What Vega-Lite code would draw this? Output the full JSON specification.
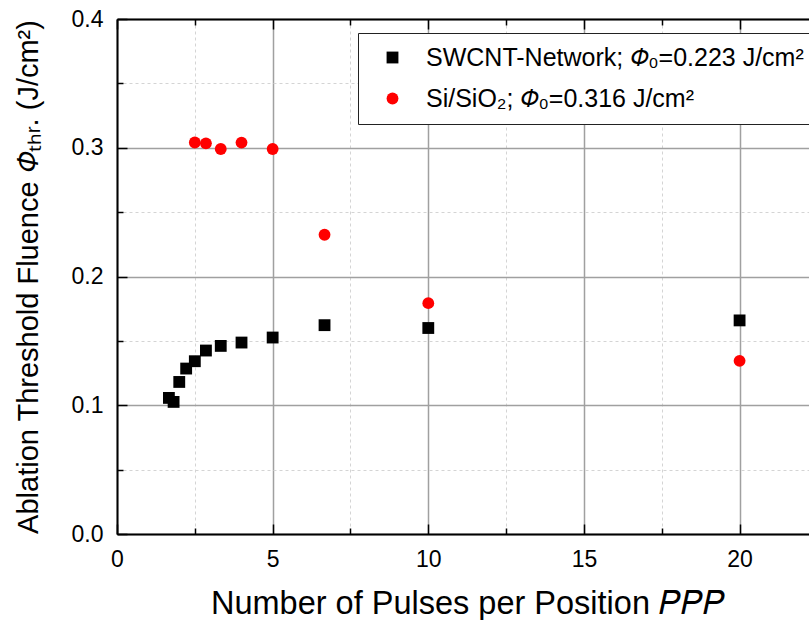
{
  "$schema": "https://vega.github.io/schema/vega-lite/v6.json",
  "autosize": {"type": "none"},
  "padding": {"left": 117, "top": 19, "right": 0, "bottom": 86},
  "width": 692,
  "height": 515,
  "background": "white",
  "config": {"font": "Liberation Sans", "view": {"stroke": null}},
  "data": {"values": [
    {"sample": "SWCNT-Network; 𝛷₀=0.223 J/cm²", "ppp": 1.667, "phi": 0.1057},
    {"sample": "SWCNT-Network; 𝛷₀=0.223 J/cm²", "ppp": 1.818, "phi": 0.1026},
    {"sample": "SWCNT-Network; 𝛷₀=0.223 J/cm²", "ppp": 2.0, "phi": 0.1181},
    {"sample": "SWCNT-Network; 𝛷₀=0.223 J/cm²", "ppp": 2.222, "phi": 0.1285},
    {"sample": "SWCNT-Network; 𝛷₀=0.223 J/cm²", "ppp": 2.5, "phi": 0.1342},
    {"sample": "SWCNT-Network; 𝛷₀=0.223 J/cm²", "ppp": 2.857, "phi": 0.1425},
    {"sample": "SWCNT-Network; 𝛷₀=0.223 J/cm²", "ppp": 3.333, "phi": 0.1461},
    {"sample": "SWCNT-Network; 𝛷₀=0.223 J/cm²", "ppp": 4.0, "phi": 0.1487},
    {"sample": "SWCNT-Network; 𝛷₀=0.223 J/cm²", "ppp": 5.0, "phi": 0.1526},
    {"sample": "SWCNT-Network; 𝛷₀=0.223 J/cm²", "ppp": 6.667, "phi": 0.1622},
    {"sample": "SWCNT-Network; 𝛷₀=0.223 J/cm²", "ppp": 10.0, "phi": 0.1600},
    {"sample": "SWCNT-Network; 𝛷₀=0.223 J/cm²", "ppp": 20.0, "phi": 0.1659},
    {"sample": "Si/SiO₂; 𝛷₀=0.316 J/cm²", "ppp": 2.5, "phi": 0.3041},
    {"sample": "Si/SiO₂; 𝛷₀=0.316 J/cm²", "ppp": 2.857, "phi": 0.3034},
    {"sample": "Si/SiO₂; 𝛷₀=0.316 J/cm²", "ppp": 3.333, "phi": 0.2990},
    {"sample": "Si/SiO₂; 𝛷₀=0.316 J/cm²", "ppp": 4.0, "phi": 0.3040},
    {"sample": "Si/SiO₂; 𝛷₀=0.316 J/cm²", "ppp": 5.0, "phi": 0.2990},
    {"sample": "Si/SiO₂; 𝛷₀=0.316 J/cm²", "ppp": 6.667, "phi": 0.2324},
    {"sample": "Si/SiO₂; 𝛷₀=0.316 J/cm²", "ppp": 10.0, "phi": 0.1793},
    {"sample": "Si/SiO₂; 𝛷₀=0.316 J/cm²", "ppp": 20.0, "phi": 0.1345}
  ]},
  "resolve": {"axis": {"x": "independent", "y": "independent"}},
  "layer": [
    {
      "mark": {"type": "point", "filled": true, "opacity": 1, "size": 140},
      "encoding": {
        "x": {
          "field": "ppp", "type": "quantitative",
          "scale": {"domain": [0, 22.23], "nice": false, "zero": false},
          "axis": {
            "orient": "bottom",
            "values": [0, 2.5, 5, 7.5, 10, 12.5, 15, 17.5, 20],
            "labelExpr": "datum.value % 5 === 0 ? datum.label : ''",
            "labelFontSize": 23, "labelColor": "black", "labelPadding": 14,
            "labelFlush": false, "labelOverlap": false, "labelBound": false,
            "domainColor": "black", "domainWidth": 2,
            "ticks": false,
            "grid": true,
            "gridColor": {"condition": {"test": "datum.value % 5 !== 0", "value": "#d4d4d4"}, "value": "#a0a0a0"},
            "gridDash": {"condition": {"test": "datum.value % 5 !== 0", "value": [3, 3]}, "value": []},
            "gridWidth": {"condition": {"test": "datum.value % 5 !== 0", "value": 1}, "value": 1.5},
            "title": "Number of Pulses per Position 𝑃𝑃𝑃",
            "titleFontSize": 32.5, "titleFontWeight": "normal", "titleColor": "black",
            "titleX": 350.5, "titleY": 79, "titleAlign": "center", "titleBaseline": "alphabetic"
          }
        },
        "y": {
          "field": "phi", "type": "quantitative",
          "scale": {"domain": [0, 0.4], "nice": false, "zero": false},
          "axis": {
            "orient": "left",
            "values": [0, 0.05, 0.1, 0.15, 0.2, 0.25, 0.3, 0.35, 0.4],
            "labelExpr": "abs(datum.value*10 - round(datum.value*10)) < 0.000001 ? format(datum.value, '.1f') : ''",
            "labelFontSize": 23, "labelColor": "black", "labelPadding": 14,
            "labelOverlap": false, "labelBound": false, "labelFlush": false,
            "domainColor": "black", "domainWidth": 2,
            "ticks": false,
            "grid": true,
            "gridColor": {"condition": {"test": "abs(datum.value*10 - round(datum.value*10)) > 0.000001", "value": "#d4d4d4"}, "value": "#a0a0a0"},
            "gridDash": {"condition": {"test": "abs(datum.value*10 - round(datum.value*10)) > 0.000001", "value": [3, 3]}, "value": []},
            "gridWidth": {"condition": {"test": "abs(datum.value*10 - round(datum.value*10)) > 0.000001", "value": 1}, "value": 1.5},
            "title": "Ablation Threshold Fluence 𝛷ₜₕᵣ. (J/cm²)",
            "titleFontSize": 29, "titleFontWeight": "normal", "titleColor": "black",
            "titleAngle": -90, "titleX": -80, "titleY": 257.5, "titleAlign": "center", "titleBaseline": "alphabetic"
          }
        },
        "color": {
          "field": "sample", "type": "nominal",
          "scale": {"domain": ["SWCNT-Network; 𝛷₀=0.223 J/cm²", "Si/SiO₂; 𝛷₀=0.316 J/cm²"], "range": ["#000000", "#ff0000"]},
          "legend": {
            "orient": "none", "legendX": 241, "legendY": 14, "title": null,
            "labelFontSize": 25, "labelColor": "black", "labelLimit": 0,
            "padding": 12, "rowPadding": 15, "symbolOffset": 10, "labelOffset": 21,
            "strokeColor": "#222222", "fillColor": "white", "symbolSize": 140, "symbolStrokeWidth": 0
          }
        },
        "shape": {
          "field": "sample", "type": "nominal",
          "scale": {"domain": ["SWCNT-Network; 𝛷₀=0.223 J/cm²", "Si/SiO₂; 𝛷₀=0.316 J/cm²"], "range": ["square", "circle"]},
          "legend": {
            "orient": "none", "legendX": 241, "legendY": 14, "title": null,
            "labelFontSize": 25, "labelColor": "black", "labelLimit": 0,
            "padding": 12, "rowPadding": 15, "symbolOffset": 10, "labelOffset": 21,
            "strokeColor": "#222222", "fillColor": "white", "symbolSize": 140, "symbolStrokeWidth": 0
          }
        }
      }
    },
    {
      "mark": {"type": "point", "opacity": 0},
      "encoding": {
        "x": {
          "field": "ppp", "type": "quantitative",
          "axis": {
            "orient": "bottom", "offset": -10, "labels": false, "title": null, "grid": false, "domain": false,
            "values": [0, 5, 10, 15, 20],
            "ticks": true, "tickColor": "black", "tickWidth": 1.5, "tickSize": 10, "zindex": 2
          }
        },
        "y": {
          "field": "phi", "type": "quantitative",
          "axis": {
            "orient": "left", "offset": -10, "labels": false, "title": null, "grid": false, "domain": false,
            "values": [0, 0.1, 0.2, 0.3, 0.4],
            "ticks": true, "tickColor": "black", "tickWidth": 1.5, "tickSize": 10, "zindex": 2
          }
        }
      }
    },
    {
      "mark": {"type": "point", "opacity": 0},
      "encoding": {
        "x": {
          "field": "ppp", "type": "quantitative",
          "axis": {
            "orient": "bottom", "offset": -6, "labels": false, "title": null, "grid": false, "domain": false,
            "values": [2.5, 7.5, 12.5, 17.5],
            "ticks": true, "tickColor": "black", "tickWidth": 1.5, "tickSize": 6, "zindex": 2
          }
        },
        "y": {
          "field": "phi", "type": "quantitative",
          "axis": {
            "orient": "left", "offset": -6, "labels": false, "title": null, "grid": false, "domain": false,
            "values": [0.05, 0.15, 0.25, 0.35],
            "ticks": true, "tickColor": "black", "tickWidth": 1.5, "tickSize": 6, "zindex": 2
          }
        }
      }
    },
    {
      "mark": {"type": "point", "opacity": 0},
      "encoding": {
        "x": {
          "field": "ppp", "type": "quantitative",
          "axis": {
            "orient": "top", "labels": false, "title": null, "grid": false, "domain": true,
            "domainColor": "black", "domainWidth": 2, "ticks": false
          }
        }
      }
    },
    {
      "mark": {"type": "point", "opacity": 0},
      "encoding": {
        "x": {
          "field": "ppp", "type": "quantitative",
          "axis": {
            "orient": "top", "offset": -10, "labels": false, "title": null, "grid": false, "domain": false,
            "values": [0, 5, 10, 15, 20],
            "ticks": true, "tickColor": "black", "tickWidth": 1.5, "tickSize": 10, "zindex": 2
          }
        }
      }
    },
    {
      "mark": {"type": "point", "opacity": 0},
      "encoding": {
        "x": {
          "field": "ppp", "type": "quantitative",
          "axis": {
            "orient": "top", "offset": -6, "labels": false, "title": null, "grid": false, "domain": false,
            "values": [2.5, 7.5, 12.5, 17.5],
            "ticks": true, "tickColor": "black", "tickWidth": 1.5, "tickSize": 6, "zindex": 2
          }
        }
      }
    }
  ]
}
